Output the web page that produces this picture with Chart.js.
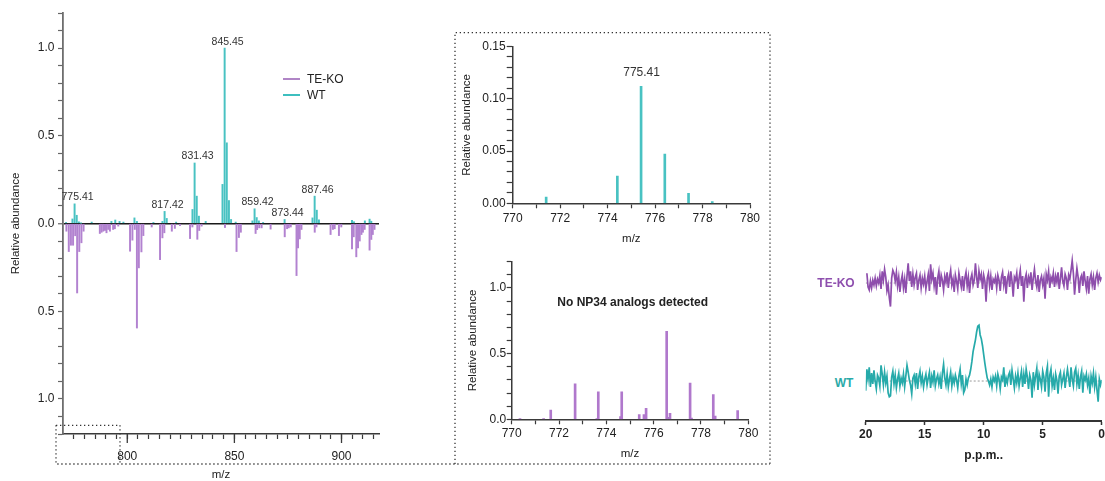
<!DOCTYPE html>
<html>
<head>
<meta charset="utf-8">
<title>NP34 MS and NMR comparison</title>
<script src="https://cdn.jsdelivr.net/npm/chart.js@4.4.1/dist/chart.umd.min.js"></script>
<style>
  html, body { margin: 0; padding: 0; background: #fff; width: 1105px; height: 481px; overflow: hidden;
    font-family: "Liberation Sans", Arial, Helvetica, sans-serif; }
  canvas { position: absolute; }
  .txt { position: absolute; white-space: nowrap; color: #222; line-height: 1; }
  .key { position: absolute; height: 1.5px; width: 17px; }
  svg.frame { position: absolute; left: 0; top: 0; pointer-events: none; }
</style>
</head>
<body>
<canvas id="msMain" width="400" height="481" style="left:0;top:0"></canvas>
<canvas id="msWtZoom" width="310" height="215" style="left:455px;top:35px"></canvas>
<canvas id="msKoZoom" width="310" height="231" style="left:455px;top:250px"></canvas>
<canvas id="nmr" width="250" height="241" style="left:855px;top:240px"></canvas>

<!-- legend of the mirror spectrum -->
<div class="key" style="left:283px;top:78px;background:#b085c6"></div>
<div class="key" style="left:283px;top:94px;background:#3dbfbf"></div>
<div class="txt" style="left:307px;top:73.3px;font-size:12px">TE-KO</div>
<div class="txt" style="left:307px;top:89.4px;font-size:12px">WT</div>

<div class="txt" style="left:632.7px;top:296.3px;font-size:12px;font-weight:bold;transform:translateX(-50%)">No NP34 analogs detected</div>

<div class="txt" style="left:836px;top:277.4px;font-size:12px;font-weight:bold;color:#8e4fae;transform:translateX(-50%)">TE-KO</div>
<div class="txt" style="left:844px;top:377.4px;font-size:12px;font-weight:bold;color:#2aaaa8;transform:translateX(-50%)">WT</div>

<!-- dotted zoom frame -->
<svg class="frame" width="1105" height="481">
  <g fill="none" stroke="#333" stroke-width="1.3" stroke-dasharray="1.3 2.7">
    <path d="M56 425.3 H120 V464"/>
    <path d="M56 425.3 V464 H770"/>
    <path d="M455 464 V32.7 H770 V464"/>
  </g>
</svg>

<script>
// ---- mass spectra: WT (up) and TE-KO (mirrored down), m/z 770-918 ----
const wtMz = [771.41, 774.41, 775.41, 776.41, 777.41, 778.41, 783.4, 792.6, 794.4, 796.4, 798.2,
  803.35, 804.5, 812.2, 816.42, 817.42, 818.42, 822.8, 830.43, 831.43, 832.43, 833.43, 836.6,
  844.45, 845.45, 846.45, 847.45, 848.45, 850.6, 858.42, 859.42, 860.42, 861.42, 863.4, 873.44,
  886.46, 887.46, 888.46, 889.46, 904.9, 905.8, 910.9, 913.1, 913.9];
const wtAbundance = [0.006, 0.026, 0.112, 0.047, 0.0096, 0.0016, 0.008, 0.012, 0.02, 0.012, 0.008,
  0.032, 0.012, 0.006, 0.012, 0.069, 0.029, 0.008, 0.08, 0.345, 0.156, 0.042, 0.012,
  0.223, 1.0, 0.46, 0.131, 0.023, 0.008, 0.015, 0.084, 0.034, 0.015, 0.006, 0.023,
  0.032, 0.156, 0.076, 0.021, 0.018, 0.01, 0.015, 0.025, 0.013];

const koMz = [771.6, 772.7, 773.7, 774.7, 775.7, 776.6, 777.6, 778.6, 779.6,
  787.2, 788.0, 788.8, 789.6, 790.3, 791.1, 791.9, 793.4, 794.2, 795.8,
  801.3, 802.4, 803.5, 804.5, 805.4, 806.6, 807.5, 811.4, 815.3, 816.4, 817.3,
  820.8, 822.2, 824.6, 829.3, 830.4, 832.7, 833.6, 834.7, 845.6,
  851.0, 852.1, 853.0, 859.9, 860.6, 861.6, 862.7, 866.9,
  873.5, 874.6, 875.4, 876.3, 879.0, 879.7, 880.5, 881.3, 887.5, 888.3,
  894.9, 896.0, 896.8, 898.8, 899.9, 904.9, 905.7, 906.9, 907.7, 908.5, 909.3, 910.0, 910.8,
  913.1, 913.9, 914.6, 915.4];
const koAbundance = [0.044, 0.16, 0.124, 0.124, 0.07, 0.396, 0.16, 0.11, 0.044,
  0.057, 0.05, 0.044, 0.04, 0.053, 0.034, 0.044, 0.034, 0.03, 0.015,
  0.158, 0.095, 0.034, 0.596, 0.253, 0.162, 0.069, 0.02, 0.206, 0.082, 0.053,
  0.044, 0.028, 0.012, 0.086, 0.02, 0.09, 0.04, 0.015, 0.023,
  0.16, 0.08, 0.05, 0.057, 0.035, 0.025, 0.025, 0.032,
  0.076, 0.03, 0.025, 0.02, 0.297, 0.139, 0.088, 0.034, 0.05, 0.02,
  0.063, 0.034, 0.03, 0.069, 0.02, 0.145, 0.076, 0.19, 0.139, 0.1, 0.063, 0.05, 0.034,
  0.152, 0.091, 0.063, 0.034];

// annotated WT peaks
const wtLabelled = [775.41, 817.42, 831.43, 845.45, 859.42, 873.44, 887.46];
const wtZoomLabelled = [775.41];

// TE-KO spectrum around m/z 770-780 (own scaling)
const koZoomMz = [770.35, 771.35, 771.65, 772.68, 773.6, 773.66, 774.6, 774.65, 775.39, 775.59, 775.68,
  776.55, 776.62, 776.69, 777.54, 777.6, 778.52, 778.6, 779.55];
const koZoomAbundance = [0.005, 0.005, 0.071, 0.27, 0.006, 0.21, 0.02, 0.21, 0.036, 0.036, 0.084,
  0.669, 0.015, 0.046, 0.275, 0.01, 0.188, 0.025, 0.066];

// ---- 1D NMR traces, 20 -> 0 p.p.m. in 0.1 p.p.m. steps ----
const ppmStart = 20, ppmStep = 0.1;
const nmrTeKo = [null,
  0.10, -0.04, -0.07, 0.02, -0.05, 0.03, -0.02, 0.05, -0.03, 0.04,
  0.00, 0.08, -0.06, 0.12, 0.03, 0.14, 0.06, -0.08, -0.02, -0.15,
  -0.24, 0.05, 0.13, 0.10, 0.02, 0.11, -0.03, 0.06, -0.09, 0.02,
  0.08, -0.05, 0.04, -0.10, 0.07, 0.20, 0.02, 0.12, -0.04, 0.09,
  -0.02, 0.06, 0.10, -0.07, 0.03, 0.08, -0.05, 0.05, -0.01, 0.07,
  -0.06, 0.02, 0.09, -0.08, 0.19, 0.04, 0.10, -0.03, 0.06, -0.12,
  0.05, 0.12, -0.04, 0.08, 0.03, -0.07, 0.07, 0.01, 0.11, -0.05,
  0.06, 0.13, -0.02, 0.04, -0.09, 0.08, 0.02, -0.06, 0.10, 0.03,
  -0.04, 0.07, -0.08, 0.05, 0.11, -0.03, 0.06, -0.10, 0.04, 0.09,
  -0.02, 0.03, 0.20, 0.06, -0.05, 0.12, 0.04, 0.09, -0.06, 0.08,
  0.02, -0.19, 0.05, 0.10, -0.03, 0.07, -0.07, 0.04, 0.01, 0.06,
  -0.05, 0.08, 0.03, -0.08, 0.06, 0.11, -0.02, 0.07, -0.11, 0.04,
  0.09, -0.04, 0.12, 0.02, -0.14, 0.06, 0.03, 0.10, -0.06, 0.05,
  0.13, -0.03, 0.07, -0.19, 0.04, 0.09, -0.05, 0.06, 0.01, 0.11,
  -0.07, 0.05, 0.14, 0.02, -0.04, 0.08, -0.09, 0.03, 0.07, -0.02,
  0.05, -0.16, 0.09, 0.03, 0.12, -0.05, 0.06, 0.02, 0.10, -0.04,
  0.07, 0.01, 0.11, -0.06, 0.04, 0.16, 0.02, -0.03, 0.09, 0.05,
  -0.07, 0.08, 0.04, 0.13, 0.23, 0.10, -0.12, 0.03, 0.15, 0.06,
  -0.10, 0.05, 0.08, -0.03, 0.12, 0.02, -0.06, 0.07, -0.11, 0.04,
  0.09, -0.02, 0.06, -0.07, 0.05, 0.10, 0.01, 0.08, 0.03, 0.06];
const nmrWt = [-0.10,
  0.12, 0.02, 0.14, -0.06, 0.08, -0.03, 0.11, 0.00, -0.08, 0.06,
  0.03, -0.05, 0.16, 0.07, -0.04, 0.09, -0.02, 0.05, -0.12, -0.16,
  -0.15, 0.04, 0.10, -0.03, 0.06, -0.07, 0.02, 0.08, -0.05, 0.03,
  -0.02, 0.07, -0.06, 0.05, 0.16, 0.09, 0.01, -0.04, -0.13, 0.03,
  0.06, -0.03, 0.08, -0.08, 0.04, 0.10, -0.02, 0.05, -0.06, 0.02,
  0.07, -0.04, 0.03, 0.09, -0.07, 0.05, -0.01, 0.11, -0.05, 0.02,
  0.06, -0.03, 0.04, -0.08, 0.08, 0.17, 0.03, -0.04, 0.07, -0.06,
  0.02, 0.09, -0.05, 0.04, -0.02, 0.06, 0.01, -0.07, 0.05, 0.12,
  -0.03, 0.06, -0.12, -0.09, 0.02, -0.04, 0.03, 0.06, 0.12, 0.20,
  0.30, 0.36, 0.42, 0.50, 0.56, 0.57, 0.47, 0.43, 0.36, 0.27,
  0.18, 0.10, 0.03, 0.00, -0.04, 0.02, -0.06, 0.04, 0.00, 0.05,
  -0.05, 0.07, 0.02, -0.08, 0.04, 0.01, 0.14, -0.06, 0.03, -0.02,
  0.06, 0.09, -0.04, 0.11, 0.02, -0.07, 0.05, -0.02, 0.08, -0.05,
  0.03, 0.10, -0.06, 0.07, -0.03, 0.12, 0.04, -0.08, 0.06, 0.01,
  -0.17, 0.09, -0.04, 0.05, 0.13, -0.09, 0.07, 0.02, -0.06, 0.10,
  0.04, -0.11, 0.08, 0.15, -0.16, 0.06, 0.12, -0.05, 0.03, -0.09,
  0.07, 0.01, -0.13, 0.05, 0.09, -0.04, 0.02, 0.08, -0.07, 0.04,
  0.12, 0.03, -0.06, 0.14, 0.02, -0.05, 0.09, 0.13, -0.03, 0.06,
  -0.08, 0.04, 0.10, -0.12, 0.05, 0.01, 0.07, -0.04, 0.03, -0.13,
  0.05, -0.02, 0.08, -0.06, 0.04, -0.09, -0.21, 0.02, -0.04, 0.01];
const nmrTraceOffset = { teKo: 1.0, wt: 0.0 };

// ---- styling ----
const FONT = '"Liberation Sans", Arial, Helvetica, sans-serif';
Chart.defaults.font.family = FONT;
Chart.defaults.color = '#222';
const WT_BAR = 'rgb(72,194,194)';
const KO_BAR = 'rgb(178,130,208)';
const KO_BAR_DEEP = 'rgb(176,120,204)';
const WT_LINE = 'rgb(38,170,170)';
const KO_LINE = 'rgb(142,78,172)';
const AXIS = '#3a3a3a';

function stepTicks(from, to, step) {
  const out = [];
  const n = Math.round((to - from) / step);
  for (let k = 0; k <= n; k++) out.push({ value: +(from + k * step).toFixed(4) });
  return out;
}
const toPoints = (xs, ys, sign) => xs.map((x, i) => ({ x, y: sign * ys[i] }));
const within = (pts, lo, hi) => pts.filter(p => p.x >= lo && p.x <= hi);

// peak annotations placed on the drawn bars
const peakLabels = {
  id: 'peakLabels',
  afterDatasetsDraw(chart, args, opts) {
    if (!opts || !opts.values) return;
    const di = opts.datasetIndex || 0;
    const meta = chart.getDatasetMeta(di);
    const data = chart.data.datasets[di].data;
    const ctx = chart.ctx;
    ctx.save();
    ctx.font = opts.font;
    ctx.fillStyle = opts.color;
    ctx.textAlign = 'center';
    ctx.textBaseline = 'alphabetic';
    opts.values.forEach(v => {
      const i = data.findIndex(d => d.x === v);
      if (i < 0) return;
      const el = meta.data[i];
      ctx.fillText(v.toFixed(2), el.x + (opts.dx || 0), el.y - opts.gap);
    });
    ctx.restore();
  }
};

// longer tick marks at labelled m/z values
const majorTicks = {
  id: 'majorTicks',
  afterDraw(chart, args, opts) {
    if (!opts || !opts.values) return;
    const s = chart.scales.x;
    const ctx = chart.ctx;
    ctx.save();
    ctx.strokeStyle = opts.color;
    ctx.lineWidth = opts.width;
    opts.values.forEach(v => {
      const px = s.getPixelForValue(v);
      ctx.beginPath();
      ctx.moveTo(px, s.top);
      ctx.lineTo(px, s.top + opts.length);
      ctx.stroke();
    });
    ctx.restore();
  }
};

const common = { responsive: false, animation: false, devicePixelRatio: 1, events: [] };

// ---- mirror spectrum ----
new Chart(document.getElementById('msMain'), {
  type: 'bar',
  data: {
    datasets: [
      { label: 'WT', data: toPoints(wtMz, wtAbundance, 1), backgroundColor: WT_BAR, barThickness: 1.3, grouped: false },
      { label: 'TE-KO', data: toPoints(koMz, koAbundance, -1), backgroundColor: KO_BAR, barThickness: 1.3, grouped: false }
    ]
  },
  options: {
    ...common,
    layout: { padding: { left: 0, top: 13, right: 21, bottom: 0 } },
    plugins: {
      legend: { display: false }, tooltip: { enabled: false },
      peakLabels: { values: wtLabelled, datasetIndex: 0, font: '10.5px ' + FONT, color: '#333', gap: 3.5, dx: 3 },
      majorTicks: { values: [800, 850, 900], length: 9, width: 1.3, color: AXIS }
    },
    scales: {
      x: {
        type: 'linear', min: 770, max: 917.5, offset: false,
        afterBuildTicks: s => { s.ticks = stepTicks(775, 915, 5); },
        afterFit: s => { s.height = 47; },
        ticks: { autoSkip: false, maxRotation: 0, padding: 10, font: { size: 12 }, color: '#222',
          callback: v => (v % 50 === 0 ? String(v) : '') },
        grid: { offset: false, drawOnChartArea: false, tickLength: 5, tickColor: AXIS, tickWidth: 1.2 },
        border: { color: AXIS, width: 1.5 },
        title: { display: true, text: 'm/z', font: { size: 11.5, lineHeight: 1 }, color: '#222', padding: { top: 0, bottom: 0 } }
      },
      y: {
        min: -1.2, max: 1.2,
        afterBuildTicks: s => { s.ticks = stepTicks(-1.2, 1.2, 0.1); },
        afterFit: s => { s.width = 63; },
        ticks: { autoSkip: false, padding: 3.5, font: { size: 12 }, color: '#222',
          callback: v => { const k = Math.round(v * 10); return k % 5 === 0 ? Math.abs(k / 10).toFixed(1) : ''; } },
        grid: {
          color: c => (c.tick && Math.abs(c.tick.value) < 1e-9 ? '#1a1a1a' : 'rgba(0,0,0,0)'),
          lineWidth: c => (c.tick && Math.abs(c.tick.value) < 1e-9 ? 1.5 : 1),
          tickColor: '#666', tickLength: 5, tickWidth: 1.2
        },
        border: { color: '#6e6e6e', width: 1.8 },
        title: { display: true, text: 'Relative abundance', font: { size: 11.5, lineHeight: 1 }, color: '#222', padding: { top: 10.5, bottom: 0 } }
      }
    }
  },
  plugins: [peakLabels, majorTicks]
});

// ---- WT, m/z 770-780 ----
new Chart(document.getElementById('msWtZoom'), {
  type: 'bar',
  data: {
    datasets: [
      { label: 'WT', data: within(toPoints(wtMz, wtAbundance, 1), 770, 780), backgroundColor: WT_BAR, barThickness: 2, grouped: false }
    ]
  },
  options: {
    ...common,
    layout: { padding: { left: 0, top: 11.5, right: 15, bottom: 0 } },
    plugins: {
      legend: { display: false }, tooltip: { enabled: false },
      peakLabels: { values: wtZoomLabelled, datasetIndex: 0, font: '12px ' + FONT, color: '#333', gap: 10, dx: 0.5 }
    },
    scales: {
      x: {
        type: 'linear', min: 770, max: 780, offset: false,
        afterBuildTicks: s => { s.ticks = stepTicks(770, 780, 1); },
        afterFit: s => { s.height = 46.7; },
        ticks: { autoSkip: false, maxRotation: 0, padding: 3, font: { size: 12 }, color: '#222',
          callback: v => (Math.round(v) % 2 === 0 ? String(v) : '') },
        grid: { offset: false, drawOnChartArea: false, tickLength: 5, tickColor: AXIS, tickWidth: 1.2 },
        border: { color: AXIS, width: 1.5 },
        title: { display: true, text: 'm/z', font: { size: 11.5, lineHeight: 1 }, color: '#222', padding: { top: 0, bottom: 5.2 } }
      },
      y: {
        min: 0, max: 0.15,
        afterBuildTicks: s => { s.ticks = stepTicks(0, 0.15, 0.01); },
        afterFit: s => { s.width = 57.7; },
        ticks: { autoSkip: false, padding: 1, font: { size: 12 }, color: '#222',
          callback: v => { const k = Math.round(v * 100); return k % 5 === 0 ? (k / 100).toFixed(2) : ''; } },
        grid: { drawOnChartArea: false, tickLength: 6, tickColor: AXIS, tickWidth: 1.2 },
        border: { color: AXIS, width: 1.5 },
        title: { display: true, text: 'Relative abundance', font: { size: 11.5, lineHeight: 1 }, color: '#222', padding: { top: 6.2, bottom: 0 } }
      }
    }
  },
  plugins: [peakLabels]
});

// ---- TE-KO, m/z 770-780 ----
new Chart(document.getElementById('msKoZoom'), {
  type: 'bar',
  data: {
    datasets: [
      { label: 'TE-KO', data: toPoints(koZoomMz, koZoomAbundance, 1), backgroundColor: KO_BAR_DEEP, barThickness: 2, grouped: false }
    ]
  },
  options: {
    ...common,
    layout: { padding: { left: 0, top: 11.7, right: 16.7, bottom: 0 } },
    plugins: { legend: { display: false }, tooltip: { enabled: false } },
    scales: {
      x: {
        type: 'linear', min: 770, max: 780, offset: false,
        afterBuildTicks: s => { s.ticks = stepTicks(770, 780, 1); },
        afterFit: s => { s.height = 61.7; },
        ticks: { autoSkip: false, maxRotation: 0, padding: 2.5, font: { size: 12 }, color: '#222',
          callback: v => (Math.round(v) % 2 === 0 ? String(v) : '') },
        grid: { offset: false, drawOnChartArea: false, tickLength: 5, tickColor: AXIS, tickWidth: 1.2 },
        border: { color: AXIS, width: 1.5 },
        title: { display: true, text: 'm/z', font: { size: 11.5, lineHeight: 1 }, color: '#222', padding: { top: 0, bottom: 21.2 } }
      },
      y: {
        min: 0, max: 1.2,
        afterBuildTicks: s => { s.ticks = stepTicks(0, 1.2, 0.1); },
        afterFit: s => { s.width = 56.7; },
        ticks: { autoSkip: false, padding: 0.5, font: { size: 12 }, color: '#222',
          callback: v => { const k = Math.round(v * 10); return k % 5 === 0 ? (k / 10).toFixed(1) : ''; } },
        grid: { drawOnChartArea: false, tickLength: 5, tickColor: AXIS, tickWidth: 1.2 },
        border: { color: AXIS, width: 1.5 },
        title: { display: true, text: 'Relative abundance', font: { size: 11.5, lineHeight: 1 }, color: '#222', padding: { top: 11.7, bottom: 0 } }
      }
    }
  }
});

// ---- NMR traces ----
const ppmPoints = (vals, offset) => vals.map((v, i) => ({ x: +(ppmStart - i * ppmStep).toFixed(2), y: v === null ? null : v + offset }));
new Chart(document.getElementById('nmr'), {
  type: 'line',
  data: {
    datasets: [
      { label: 'TE-KO', data: ppmPoints(nmrTeKo, nmrTraceOffset.teKo), borderColor: KO_LINE, borderWidth: 1.7, pointRadius: 0, tension: 0, order: 1 },
      { label: 'WT', data: ppmPoints(nmrWt, nmrTraceOffset.wt), borderColor: WT_LINE, borderWidth: 1.7, pointRadius: 0, tension: 0, order: 1 },
      { label: 'TE-KO baseline', data: [{ x: 20, y: nmrTraceOffset.teKo }, { x: 0, y: nmrTraceOffset.teKo }], borderColor: '#9a9a9a', borderWidth: 1, borderDash: [2, 2], pointRadius: 0, order: 2 },
      { label: 'WT baseline', data: [{ x: 20, y: nmrTraceOffset.wt }, { x: 0, y: nmrTraceOffset.wt }], borderColor: '#9a9a9a', borderWidth: 1, borderDash: [2, 2], pointRadius: 0, order: 2 }
    ]
  },
  options: {
    ...common,
    spanGaps: false,
    layout: { padding: { left: 10.7, top: 5, right: 3.3, bottom: 0 } },
    plugins: { legend: { display: false }, tooltip: { enabled: false } },
    scales: {
      x: {
        type: 'linear', min: 0, max: 20, reverse: true,
        afterBuildTicks: s => { s.ticks = stepTicks(0, 20, 5); },
        afterFit: s => { s.height = 60; },
        ticks: { autoSkip: false, maxRotation: 0, padding: 2, font: { size: 12, weight: 'bold' }, color: '#222' },
        grid: { drawOnChartArea: false, tickLength: 4, tickColor: '#333', tickWidth: 1.5 },
        border: { color: '#333', width: 2 },
        title: { display: true, text: 'p.p.m..', font: { size: 12, weight: 'bold', lineHeight: 1 }, color: '#222', padding: { top: 0, bottom: 19 } }
      },
      y: { display: false, min: -0.408, max: 1.388 }
    }
  }
});
</script>
</body>
</html>
